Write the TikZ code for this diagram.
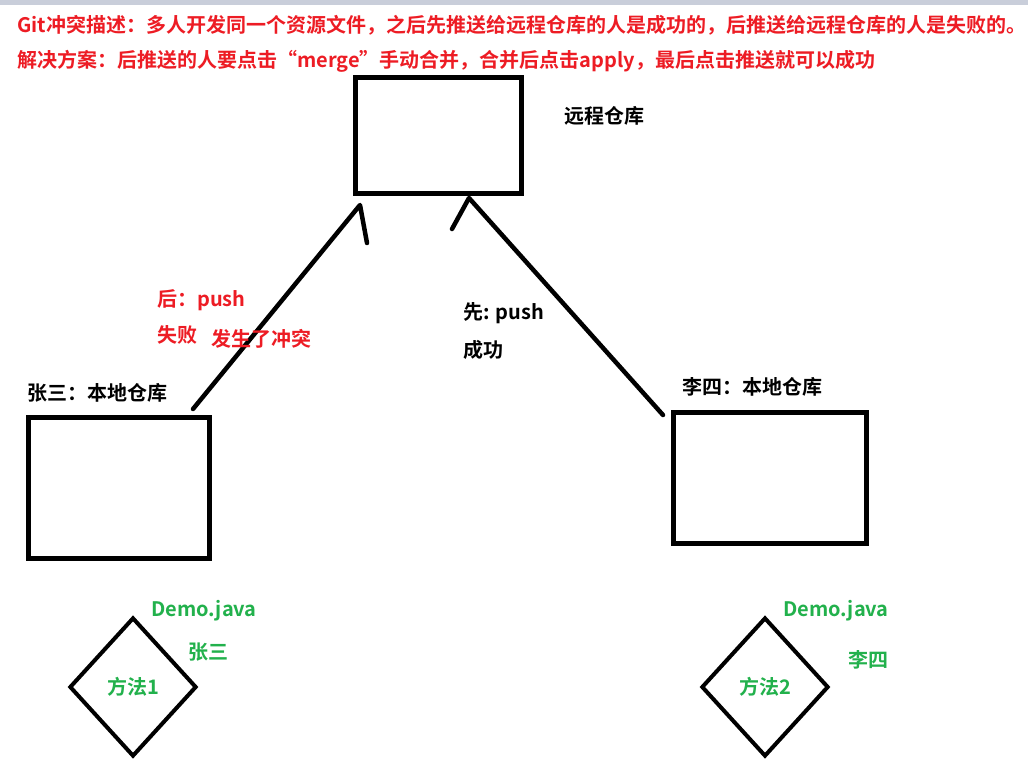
\documentclass[tikz,border=0pt]{standalone}
\usepackage{fontspec}
\setmainfont{Noto Sans CJK SC Bold}
\usetikzlibrary{shapes.geometric}
\definecolor{pred}{HTML}{ED1C24}
\definecolor{pgreen}{HTML}{22B14C}
\definecolor{barcol}{HTML}{C9CEDA}
\begin{document}
\begin{tikzpicture}[x=1pt,y=-1pt,
  lbl/.style={inner sep=0pt, anchor=west, font=\fontsize{20}{24}\selectfont, text height=17.6pt, text depth=2.4pt},
  redlbl/.style={lbl, text=pred},
  greenlbl/.style={lbl, text=pgreen},
  blacklbl/.style={lbl, text=black},
  repobox/.style={draw=black, line width=5pt, inner sep=0pt, rectangle},
  conn/.style={draw=black, line width=4.5pt, line cap=round, line join=round},
  methd/.style={diamond, draw=black, line width=4pt, inner sep=0pt, minimum width=127pt, minimum height=139pt, text=pgreen, font=\fontsize{20}{24}\selectfont}
]
\useasboundingbox (0,0) rectangle (1028,769);
\fill[white] (0,0) rectangle (1028,769);
\fill[barcol] (0,0) rectangle (1028,5);

% title lines
\node[redlbl] (t1) at (17,25) {Git冲突描述：多人开发同一个资源文件，之后先推送给远程仓库的人是成功的，后推送给远程仓库的人是失败的。};
\node[redlbl] (t2) at (17,60) {解决方案：后推送的人要点击“merge”手动合并，合并后点击apply，最后点击推送就可以成功};

% boxes
\node[repobox, minimum width=166pt, minimum height=115.5pt] (remote) at (438.5,135.25) {};
\node[repobox, minimum width=181pt, minimum height=140.5pt] (left) at (119,487.75) {};
\node[repobox, minimum width=193pt, minimum height=130.5pt] (right) at (770,477.75) {};

\node[blacklbl] (remotelbl) at (564,116) {远程仓库};
\node[blacklbl] (leftlbl) at (27,392.5) {张三：本地仓库};
\node[blacklbl] (rightlbl) at (682,386.5) {李四：本地仓库};

% connectors
\coordinate (la) at (193,409);
\coordinate (lb) at (360,205);
\coordinate (lc) at (367,243);
\coordinate (ra) at (663,415);
\coordinate (rb) at (469,198);
\coordinate (rc) at (452,229);
\draw[conn] (la) -- (lb) -- (lc);
\draw[conn] (ra) -- (rb) -- (rc);

% labels on connectors
\node[redlbl] (hou) at (157,298.5) {后：push};
\node[redlbl] (shibai) at (157,335) {失败};
\node[redlbl] (chongtu) at (211,339) {发生了冲突};
\node[blacklbl] (xian) at (463,312) {先: push};
\node[blacklbl] (chenggong) at (463,350) {成功};

% diamonds
\node[methd] (m1) at (133,687) {方法1};
\node[methd] (m2) at (765,687) {方法2};
\node[greenlbl] (demo1) at (151,609) {Demo.java};
\node[greenlbl] (zs) at (188,652) {张三};
\node[greenlbl] (demo2) at (783,609) {Demo.java};
\node[greenlbl] (ls) at (848,660) {李四};
\end{tikzpicture}
\end{document}
